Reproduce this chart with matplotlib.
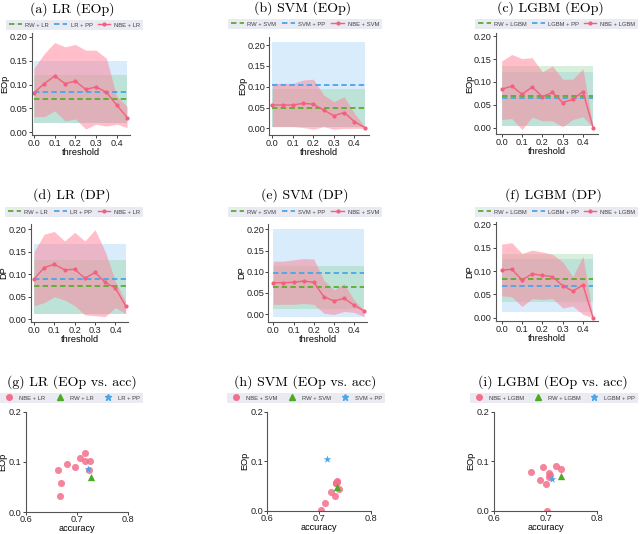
import matplotlib
matplotlib.use('Agg')
import matplotlib.pyplot as plt
from matplotlib.lines import Line2D

plt.rcParams['font.family'] = ['Liberation Sans', 'DejaVu Sans']

thresholds = [0.0, 0.05, 0.1, 0.15, 0.2, 0.25, 0.3, 0.35, 0.4, 0.45]

# NBE curves: mean, lower, upper
lr_eop = [0.083, 0.102, 0.118, 0.102, 0.107, 0.090, 0.095, 0.084, 0.057, 0.031]
lr_eop_lo = [0.033, 0.033, 0.045, 0.024, 0.028, 0.007, 0.017, 0.013, 0.017, 0.010]
lr_eop_hi = [0.134, 0.165, 0.188, 0.179, 0.184, 0.172, 0.172, 0.155, 0.075, 0.054]

svm_eop = [0.056, 0.056, 0.056, 0.060, 0.058, 0.044, 0.030, 0.038, 0.016, 0.002]
svm_eop_lo = [0.004, 0.004, 0.004, 0.002, -0.002, 0.004, -0.002, 0.0, 0.0, 0.0]
svm_eop_hi = [0.108, 0.108, 0.108, 0.116, 0.118, 0.080, 0.064, 0.076, 0.036, 0.004]

lgbm_eop = [0.084, 0.091, 0.073, 0.089, 0.068, 0.077, 0.055, 0.062, 0.079, 0.0]
lgbm_eop_lo = [0.018, 0.020, -0.004, 0.023, 0.015, 0.015, 0.002, 0.018, 0.024, 0.0]
lgbm_eop_hi = [0.146, 0.160, 0.151, 0.153, 0.122, 0.135, 0.106, 0.106, 0.129, 0.0]

lr_dp = [0.089, 0.115, 0.122, 0.110, 0.111, 0.091, 0.104, 0.082, 0.069, 0.030]
lr_dp_lo = [0.030, 0.037, 0.050, 0.043, 0.030, 0.010, 0.008, 0.006, 0.026, 0.013]
lr_dp_hi = [0.150, 0.189, 0.195, 0.174, 0.193, 0.174, 0.199, 0.150, 0.084, 0.039]

svm_dp = [0.074, 0.074, 0.075, 0.078, 0.075, 0.041, 0.031, 0.037, 0.021, 0.007]
svm_dp_lo = [0.023, 0.023, 0.023, 0.025, 0.023, 0.002, -0.001, 0.006, 0.004, -0.006]
svm_dp_hi = [0.125, 0.125, 0.128, 0.131, 0.130, 0.080, 0.057, 0.072, 0.033, 0.009]

lgbm_dp = [0.102, 0.104, 0.081, 0.094, 0.091, 0.088, 0.069, 0.057, 0.070, 0.0]
lgbm_dp_lo = [0.047, 0.045, 0.024, 0.041, 0.039, 0.041, 0.021, 0.025, 0.007, 0.0]
lgbm_dp_hi = [0.158, 0.161, 0.138, 0.145, 0.141, 0.136, 0.120, 0.088, 0.132, 0.0]

# baselines: value, band low, band high
lr_eop_rw = [0.070, 0.020, 0.120]
lr_eop_pp = [0.085, 0.020, 0.150]
svm_eop_rw = [0.048, 0.004, 0.094]
svm_eop_pp = [0.104, 0.004, 0.208]
lgbm_eop_rw = [0.070, 0.004, 0.135]
lgbm_eop_pp = [0.064, 0.004, 0.122]
lr_dp_rw = [0.073, 0.011, 0.132]
lr_dp_pp = [0.089, 0.011, 0.167]
svm_dp_rw = [0.065, 0.013, 0.114]
svm_dp_pp = [0.098, -0.006, 0.200]
lgbm_dp_rw = [0.083, 0.033, 0.136]
lgbm_dp_pp = [0.069, 0.013, 0.125]

# accuracy of each NBE threshold
lr_acc = [0.662, 0.726, 0.715, 0.715, 0.706, 0.696, 0.680, 0.723, 0.669, 0.666]
svm_acc = [0.733, 0.733, 0.733, 0.734, 0.734, 0.738, 0.730, 0.722, 0.711, 0.703]
lgbm_acc = [0.730, 0.720, 0.708, 0.696, 0.707, 0.707, 0.700, 0.689, 0.671, 0.702]
rw_acc = [0.728, 0.734, 0.730]
pp_acc = [0.721, 0.716, 0.713]

models = ['LR', 'SVM', 'LGBM']

GREEN = '#5aad2e'
BLUE = '#4aa5ea'
PINK = '#f2607e'
W, H = 640, 534
FS = 6.6

fig = plt.figure(figsize=(6.4, 5.34), dpi=100)


def box(l, t, r, b):
    return [l / W, 1 - b / H, (r - l) / W, (b - t) / H]


def style(ax):
    for s in ['top', 'right']:
        ax.spines[s].set_visible(False)
    for s in ['left', 'bottom']:
        ax.spines[s].set_color('#555555')
        ax.spines[s].set_linewidth(0.8)
    ax.tick_params(labelsize=FS, length=2, width=0.6, pad=1, colors='#222222')


def legend(handles, labels, l, t, r, b):
    fig.legend(handles, labels, loc='center', bbox_to_anchor=(l / W, 1 - b / H, (r - l) / W, (b - t) / H),
               bbox_transform=fig.transFigure, mode='expand', ncol=3, fontsize=4.2, frameon=True,
               facecolor='#eaeaf2', edgecolor='none', framealpha=1, fancybox=False,
               handlelength=2.2, handletextpad=0.6, borderpad=0.5, borderaxespad=0, labelcolor='#444444')


line_panels = [
    ('(a) LR (EOp)', 'EOp', 'LR', lr_eop, lr_eop_lo, lr_eop_hi, lr_eop_rw, lr_eop_pp,
     (31.7, 33, 130, 135), (-0.011, 0.464), (-0.0056, 0.208), (6, 21, 143, 29), (72, 9)),
    ('(b) SVM (EOp)', 'EOp', 'SVM', svm_eop, svm_eop_lo, svm_eop_hi, svm_eop_rw, svm_eop_pp,
     (269.3, 36.7, 369, 135), (-0.015, 0.471), (-0.016, 0.22), (228, 18, 382, 30), (303, 8)),
    ('(c) LGBM (EOp)', 'EOp', 'LGBM', lgbm_eop, lgbm_eop_lo, lgbm_eop_hi, lgbm_eop_rw, lgbm_eop_pp,
     (496, 33, 598, 134.3), (-0.028, 0.474), (-0.0144, 0.207), (475, 18, 638, 30), (550, 8)),
    ('(d) LR (DP)', 'DP', 'LR', lr_dp, lr_dp_lo, lr_dp_hi, lr_dp_rw, lr_dp_pp,
     (30.7, 224.3, 128.3, 321.7), (-0.016, 0.463), (-0.0053, 0.211), (5, 207, 143, 217), (72, 195)),
    ('(e) SVM (DP)', 'DP', 'SVM', svm_dp, svm_dp_lo, svm_dp_hi, svm_dp_rw, svm_dp_pp,
     (268.3, 224.3, 366.7, 321.7), (-0.025, 0.462), (-0.018, 0.212), (228, 207, 382, 217), (305, 195)),
    ('(f) LGBM (DP)', 'DP', 'LGBM', lgbm_dp, lgbm_dp_lo, lgbm_dp_hi, lgbm_dp_rw, lgbm_dp_pp,
     (496, 221.7, 598, 320.7), (-0.028, 0.474), (-0.0064, 0.206), (475, 207, 638, 217), (553, 195)),
]

for title, metric, m, mean, lo, hi, rw, pp, rect, xl, yl, lg, tpos in line_panels:
    ax = fig.add_axes(box(*rect))
    ends = [thresholds[0], thresholds[-1]]
    ax.fill_between(ends, [pp[1]] * 2, [pp[2]] * 2, color='#9fd0f5', alpha=0.4, lw=0)
    ax.fill_between(ends, [rw[1]] * 2, [rw[2]] * 2, color='#7fcf8a', alpha=0.3, lw=0)
    ax.fill_between(thresholds, lo, hi, color='#ff7f97', alpha=0.5, lw=0)
    h1, = ax.plot(ends, [rw[0]] * 2, color=GREEN, lw=1.3, ls='--', dashes=(3, 1.8))
    h2, = ax.plot(ends, [pp[0]] * 2, color=BLUE, lw=1.3, ls='--', dashes=(3, 1.8))
    h3, = ax.plot(thresholds, mean, color=PINK, lw=1.0, marker='o', ms=2)
    ax.set_xlim(*xl)
    ax.set_ylim(*yl)
    ax.set_xticks([0.0, 0.1, 0.2, 0.3, 0.4])
    ax.set_yticks([0.0, 0.05, 0.1, 0.15, 0.2])
    ax.set_yticklabels(['0.00', '0.05', '0.10', '0.15', '0.20'])
    style(ax)
    ax.set_xlabel('threshold', fontsize=FS, labelpad=0)
    ax.set_ylabel(metric, fontsize=FS, labelpad=0)
    legend([h1, h2, h3], ['RW + ' + m, m + ' + PP', 'NBE + ' + m], *lg)
    fig.text(tpos[0] / W, 1 - tpos[1] / H, title, family='cmr10', fontsize=10, ha='center', va='center')

scatter_panels = [
    ('(g) LR (EOp vs. acc)', 0, lr_acc, lr_eop, lr_eop_rw, lr_eop_pp,
     (26, 411.7, 128.3, 512), (0, 393, 143, 403), (72, 382)),
    ('(h) SVM (EOp vs. acc)', 1, svm_acc, svm_eop, svm_eop_rw, svm_eop_pp,
     (267.3, 411.7, 371, 511), (227, 393, 385, 403), (305, 382)),
    ('(i) LGBM (EOp vs. acc)', 2, lgbm_acc, lgbm_eop, lgbm_eop_rw, lgbm_eop_pp,
     (494, 411.7, 597, 511), (470, 393, 638, 403), (553, 382)),
]

for title, i, acc, eop, rw, pp, rect, lg, tpos in scatter_panels:
    m = models[i]
    ax = fig.add_axes(box(*rect))
    ax.scatter(acc, eop, s=26, color='#f2708c', alpha=0.85, lw=0, zorder=2)
    ax.scatter([rw_acc[i]], [rw[0]], s=28, marker='^', color='#4caa25', lw=0, zorder=3)
    ax.scatter([pp_acc[i]], [pp[0]], s=34, marker='*', color='#4aa5ea', lw=0, zorder=4)
    ax.set_xlim(0.6, 0.8)
    ax.set_ylim(0, 0.2)
    ax.set_xticks([0.6, 0.7, 0.8])
    ax.set_yticks([0.0, 0.1, 0.2])
    style(ax)
    ax.tick_params(axis='x', pad=0)
    ax.set_xlabel('accuracy', fontsize=FS, labelpad=0)
    ax.set_ylabel('EOp', fontsize=FS, labelpad=1)
    handles = [Line2D([], [], ls='none', marker='o', ms=4, color='#f2708c'),
               Line2D([], [], ls='none', marker='^', ms=4, color='#4caa25'),
               Line2D([], [], ls='none', marker='*', ms=4.5, color='#4aa5ea')]
    legend(handles, ['NBE + ' + m, 'RW + ' + m, m + ' + PP'], *lg)
    fig.text(tpos[0] / W, 1 - tpos[1] / H, title, family='cmr10', fontsize=10, ha='center', va='center')

fig.savefig('out.png', dpi=100)
